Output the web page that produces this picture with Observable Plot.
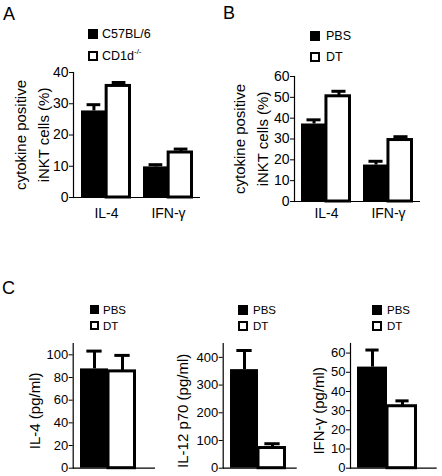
<!DOCTYPE html>
<html><head><meta charset="utf-8">
<script src="https://cdn.jsdelivr.net/npm/d3@7"></script>
<script src="https://cdn.jsdelivr.net/npm/@observablehq/plot@0.6"></script>
<style>
body{margin:0;background:#fff;font-family:"Liberation Sans",Arial,Helvetica,sans-serif;color:#000;}
#fig{position:relative;width:442px;height:476px;overflow:hidden;background:#fff;}
.panel{position:absolute;}
.letter{position:absolute;font-size:18px;line-height:18px;}
.lrow{position:absolute;display:flex;align-items:center;white-space:nowrap;}
.sw{display:inline-block;box-sizing:border-box;border:2px solid #000;flex:none;}
sup{font-size:8px;vertical-align:0;position:relative;top:-6px;}
</style></head>
<body><div id="fig"></div>
<script>
// ---------- data ----------
const groupsAB = ["IL-4", "IFN-γ"];

// Panel A
const seriesA = ["C57BL/6", "CD1d"];
const aBlack = [27.7, 9.8];
const aBlackErr = [2.0, 0.7];
const aWhite = [35.7, 14.4];
const aWhiteErr = [1.1, 1.1];
const ticksA = [0, 10, 20, 30, 40];

// Panel B
const seriesB = ["PBS", "DT"];
const bBlack = [37.2, 17.5];
const bBlackErr = [2.0, 1.8];
const bWhite = [50.5, 29.5];
const bWhiteErr = [2.4, 1.6];
const ticksB = [0, 10, 20, 30, 40, 50, 60];

// Panel C
const seriesC = ["PBS", "DT"];
const cIL4 = [87.6, 85.4];
const cIL4Err = [15.7, 14.1];
const ticksC1 = [0, 20, 40, 60, 80, 100];
const cIL12 = [355.7, 72.8];
const cIL12Err = [69, 15.5];
const ticksC2 = [0, 100, 200, 300, 400];
const cIFNg = [52.7, 32.3];
const cIFNgErr = [8.9, 2.8];
const ticksC3 = [0, 10, 20, 30, 40, 50, 60];

const yLabelAB = "cytokine positive\niNKT cells (%)";
const yLabelC1 = "IL-4 (pg/ml)";
const yLabelC2 = "IL-12 p70 (pg/ml)";
const yLabelC3 = "IFN-γ (pg/ml)";

// ---------- helpers ----------
const fig = document.getElementById("fig");
const FONT = "'Liberation Sans', Arial, Helvetica, sans-serif";

function place(node, left, top) {
  node.classList.add("panel");
  node.style.left = left + "px";
  node.style.top = top + "px";
  fig.appendChild(node);
}

function grouped(o) {
  const xs = Plot.scale({x: {type: "band", domain: groupsAB, range: [o.ml, o.width - o.mr], paddingInner: o.pi, paddingOuter: o.po}});
  const bw = xs.bandwidth;
  const half = bw / 2;
  const cap = 14;
  const B = groupsAB.map((g, i) => ({g, v: o.black[i], e: o.blackErr[i]}));
  const W = groupsAB.map((g, i) => ({g, v: o.white[i], e: o.whiteErr[i]}));
  return Plot.plot({
    width: o.width, height: o.height,
    marginTop: o.mt, marginBottom: o.mb, marginLeft: o.ml, marginRight: o.mr,
    style: {fontSize: "14px", fontFamily: FONT, background: "transparent", overflow: "visible", color: "#000"},
    x: {type: "band", domain: groupsAB, paddingInner: o.pi, paddingOuter: o.po, axis: null},
    y: {domain: [0, o.yMax], axis: null},
    marks: [
      Plot.barY(B, {x: "g", y: "v", fill: "black", insetRight: half}),
      Plot.barY(W, {x: "g", y: "v", fill: "white", stroke: "black", strokeWidth: 3, insetLeft: half, insetRight: 1.5}),
      Plot.ruleX(B, {x: "g", y1: "v", y2: d => d.v + d.e, stroke: "black", strokeWidth: 3, dx: -bw / 4}),
      Plot.tickY(B, {x: "g", y: d => d.v + d.e, stroke: "black", strokeWidth: 3, insetLeft: bw / 4 - cap / 2, insetRight: bw * 3 / 4 - cap / 2}),
      Plot.ruleX(W, {x: "g", y1: "v", y2: d => d.v + d.e, stroke: "black", strokeWidth: 3, dx: bw / 4}),
      Plot.tickY(W, {x: "g", y: d => d.v + d.e, stroke: "black", strokeWidth: 3, insetLeft: bw * 3 / 4 - cap / 2, insetRight: bw / 4 - cap / 2}),
      Plot.frame({anchor: "left", stroke: "black", strokeWidth: 1.2}),
      Plot.ruleY([0], {stroke: "black", strokeWidth: 1.2}),
      Plot.axisY(o.ticks, {tickSize: 4, tickPadding: 1, label: null, fontSize: 14, stroke: "black", fill: "black"}),
      Plot.axisX({tickSize: 0, tickPadding: o.xPad, label: null, fontSize: 14, fill: "black"}),
      Plot.text([o.ylab], {frameAnchor: "left", textAnchor: "middle", lineAnchor: "middle", rotate: -90, dx: o.labDx, fontSize: 15, lineHeight: 1.5, fill: "black"})
    ]
  });
}

function single(o) {
  const xs = Plot.scale({x: {type: "band", domain: seriesC, range: [o.ml, o.width - o.mr], paddingInner: 0, paddingOuter: o.po, align: o.align}});
  const bw = xs.bandwidth;
  const cap = o.cap;
  const rows = seriesC.map((s, i) => ({s, v: o.vals[i], e: o.errs[i]}));
  const P = rows.filter(d => d.s === "PBS");
  const D = rows.filter(d => d.s === "DT");
  return Plot.plot({
    width: o.width, height: o.height,
    marginTop: o.mt, marginBottom: o.mb, marginLeft: o.ml, marginRight: o.mr,
    style: {fontSize: "13px", fontFamily: FONT, background: "transparent", overflow: "visible", color: "#000"},
    x: {type: "band", domain: seriesC, paddingInner: 0, paddingOuter: o.po, align: o.align, axis: null},
    y: {domain: [0, o.yMax], axis: null},
    marks: [
      Plot.barY(P, {x: "s", y: "v", fill: "black"}),
      Plot.barY(D, {x: "s", y: "v", fill: "white", stroke: "black", strokeWidth: 3, insetRight: 1.5}),
      Plot.ruleX(rows, {x: "s", y1: "v", y2: d => d.v + d.e, stroke: "black", strokeWidth: 3}),
      Plot.tickY(rows, {x: "s", y: d => d.v + d.e, stroke: "black", strokeWidth: 3, insetLeft: (bw - cap) / 2, insetRight: (bw - cap) / 2}),
      Plot.frame({anchor: "left", stroke: "black", strokeWidth: 1.2}),
      Plot.ruleY([0], {stroke: "black", strokeWidth: 1.2}),
      Plot.axisY(o.ticks, {tickSize: 4, tickPadding: 1, label: null, fontSize: 13, stroke: "black", fill: "black"}),
      Plot.text([o.ylab], {frameAnchor: "left", textAnchor: "middle", lineAnchor: "middle", rotate: -90, dx: o.labDx, dy: 5, fontSize: 15, fill: "black"})
    ]
  });
}

function letter(t, left, top) {
  const d = document.createElement("div");
  d.className = "letter";
  d.textContent = t;
  d.style.left = left + "px";
  d.style.top = top + "px";
  fig.appendChild(d);
}

function legend(items, left, tops, size, gap, fontSize) {
  items.forEach((it, i) => {
    const row = document.createElement("div");
    row.className = "lrow";
    row.style.left = left + "px";
    row.style.top = tops[i] + "px";
    row.style.height = size + "px";
    row.style.fontSize = fontSize + "px";
    const sw = document.createElement("span");
    sw.className = "sw";
    sw.style.width = size + "px";
    sw.style.height = size + "px";
    sw.style.background = i === 0 ? "#000" : "#fff";
    const tx = document.createElement("span");
    tx.style.marginLeft = gap + "px";
    tx.innerHTML = it;
    row.appendChild(sw);
    row.appendChild(tx);
    fig.appendChild(row);
  });
}

// ---------- panels ----------
place(grouped({width: 221, height: 240, mt: 72, mb: 43, ml: 73, mr: 21, pi: 0.2, po: 0.11,
  yMax: 40, ticks: ticksA, black: aBlack, blackErr: aBlackErr, white: aWhite, whiteErr: aWhiteErr,
  ylab: yLabelAB, labDx: -43, xPad: 11}), 0, 0);

place(grouped({width: 221, height: 240, mt: 76, mb: 39, ml: 73, mr: 22, pi: 0.2, po: 0.11,
  yMax: 60, ticks: ticksB, black: bBlack, blackErr: bBlackErr, white: bWhite, whiteErr: bWhiteErr,
  ylab: yLabelAB, labDx: -45, xPad: 7}), 221, 0);

place(single({width: 160, height: 196, mt: 63, mb: 8.3, ml: 72.7, mr: 5, po: 0.434, align: 0.265, cap: 16,
  yMax: 110, ticks: ticksC1, vals: cIL4, errs: cIL4Err, ylab: yLabelC1, labDx: -38}), 0, 280);

place(single({width: 140, height: 196, mt: 63, mb: 8.3, ml: 62.7, mr: 3.3, po: 0.289, align: 0.4, cap: 16,
  yMax: 450, ticks: ticksC2, vals: cIL12, errs: cIL12Err, ylab: yLabelC2, labDx: -40}), 160, 280);

place(single({width: 142, height: 196, mt: 63, mb: 8.3, ml: 50, mr: 5.3, po: 0.407, align: 0.267, cap: 14,
  yMax: 65, ticks: ticksC3, vals: cIFNg, errs: cIFNgErr, ylab: yLabelC3, labDx: -31.5}), 300, 280);

// ---------- letters & legends ----------
letter("A", 3, 5);
letter("B", 223, 4);
letter("C", 2, 279);

legend([seriesA[0], seriesA[1] + "<sup>-/-</sup>"], 88, [29, 51], 10, 4, 12.5);
legend(seriesB, 310, [31, 52], 10, 6, 12.5);
legend(seriesC, 90, [305, 321], 9, 4, 11.5);
legend(seriesC, 238, [305, 321], 10, 5, 11.5);
legend(seriesC, 372, [305, 321], 10, 5, 11.5);
</script>
</body></html>
